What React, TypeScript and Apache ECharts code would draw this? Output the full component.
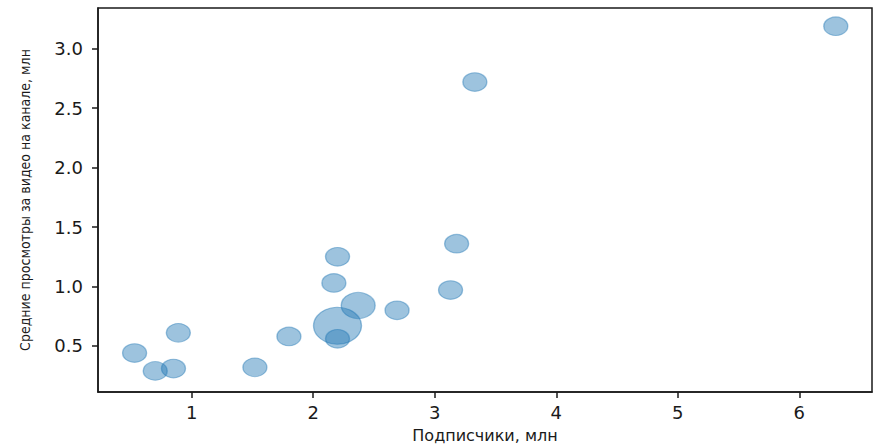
import React, { useEffect, useRef } from "react";
import * as echarts from "echarts";

// Подписчики, млн
const subscribers = [0.53, 0.70, 0.85, 0.89, 1.52, 1.80, 2.17, 2.20, 2.20, 2.20, 2.37, 2.69, 3.13, 3.18, 3.33, 6.30];
// Средние просмотры за видео на канале, млн
const avgViews = [0.44, 0.29, 0.31, 0.61, 0.32, 0.58, 1.03, 1.25, 0.67, 0.56, 0.84, 0.80, 0.97, 1.36, 2.72, 3.19];
// relative bubble weight (area)
const weights = [1, 1, 1, 1, 1, 1, 1, 1, 4, 1, 2, 1, 1, 1, 1, 1];

const xTicks = [1, 2, 3, 4, 5, 6];
const yTicks = [0.5, 1.0, 1.5, 2.0, 2.5, 3.0];

export default function App() {
  const ref = useRef<HTMLDivElement>(null);
  useEffect(() => {
    if (!ref.current) return;
    const chart = echarts.init(ref.current, null, { renderer: "svg" });
    const data = subscribers.map((x, i) => [x, avgViews[i], weights[i]]);
    const base = 24;
    const ratio = 0.77;
    chart.setOption({
      animation: false,
      backgroundColor: "#fff",
      grid: {
        left: 98,
        top: 8,
        right: 5,
        bottom: 54,
        show: true,
        borderColor: "#1a1a1a",
        borderWidth: 1.5,
        containLabel: false,
      },
      xAxis: {
        type: "value",
        min: 0.229,
        max: 6.598,
        name: "Подписчики, млн",
        nameLocation: "middle",
        nameGap: 35,
        nameTextStyle: { fontFamily: "DejaVu Sans", fontSize: 16, color: "#1a1a1a" },
        axisLine: { show: true, lineStyle: { color: "#1a1a1a", width: 1.5 } },
        axisTick: { show: true, inside: false, length: 6, customValues: xTicks, lineStyle: { color: "#1a1a1a", width: 1.5 } },
        axisLabel: {
          fontFamily: "DejaVu Sans",
          fontSize: 18,
          color: "#1a1a1a",
          margin: 11,
          customValues: xTicks,
          formatter: (v: number) => String(v),
        },
        splitLine: { show: false },
      },
      yAxis: {
        type: "value",
        min: 0.1125,
        max: 3.343,
        name: "Средние просмотры за видео на канале, млн",
        nameLocation: "middle",
        nameGap: 66,
        nameRotate: 90,
        nameTextStyle: { fontFamily: "DejaVu Sans Condensed", fontSize: 14, color: "#1a1a1a" },
        axisLine: { show: true, lineStyle: { color: "#1a1a1a", width: 1.5 } },
        axisTick: { show: true, length: 6, customValues: yTicks, lineStyle: { color: "#1a1a1a", width: 1.5 } },
        axisLabel: {
          fontFamily: "DejaVu Sans",
          fontSize: 18,
          color: "#1a1a1a",
          margin: 15,
          customValues: yTicks,
          formatter: (v: number) => v.toFixed(1),
        },
        splitLine: { show: false },
      },
      series: [
        {
          type: "scatter",
          data,
          symbol: "circle",
          symbolSize: (d: number[]) => {
            const w = base * Math.sqrt(d[2]);
            return [w, w * ratio];
          },
          itemStyle: {
            color: "rgba(31,119,180,0.55)",
            borderColor: "rgba(31,119,180,0.55)",
            borderWidth: 1.2,
          },
        },
      ],
    });
    return () => chart.dispose();
  }, []);
  return (
    <div
      ref={ref}
      style={{ position: "fixed", left: 0, top: 0, width: 877, height: 448 }}
    />
  );
}
